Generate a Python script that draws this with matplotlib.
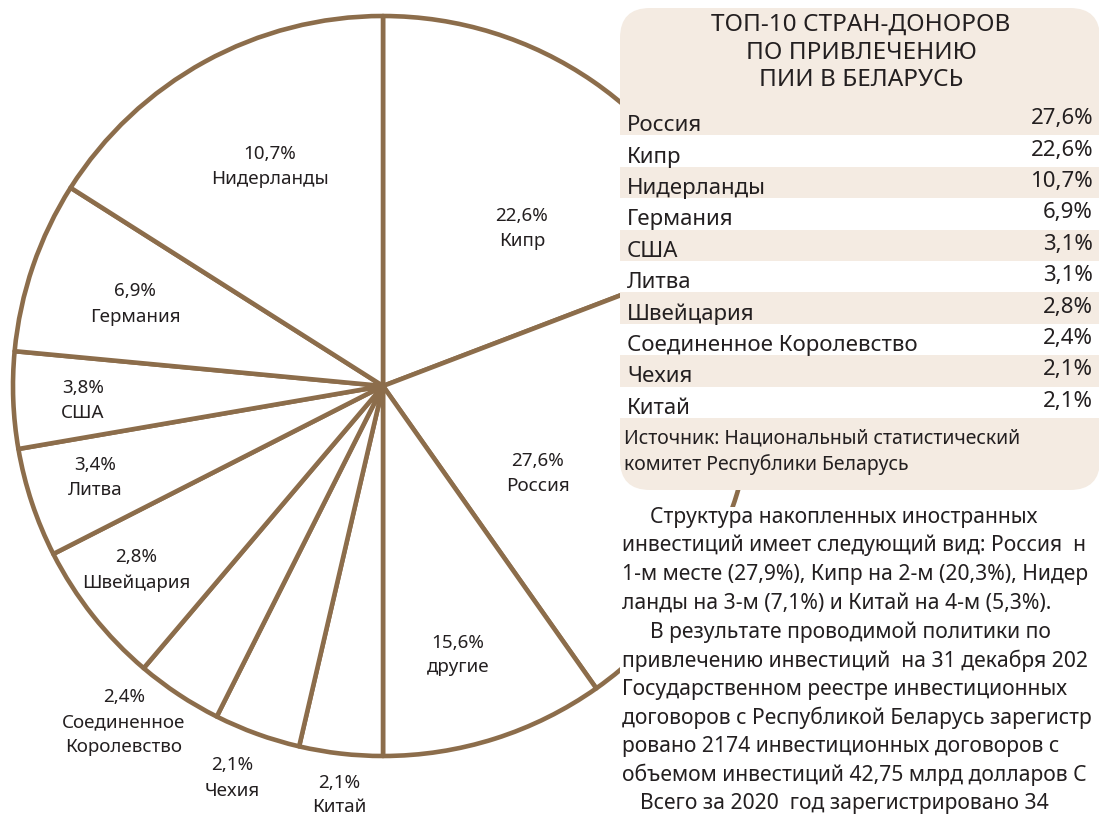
import matplotlib
matplotlib.use('Agg')
import matplotlib.pyplot as plt
from matplotlib.patches import FancyBboxPatch, Rectangle

# pie slices, clockwise from 12 o'clock
slice_names = ['Кипр', 'Россия', 'другие', 'Китай', 'Чехия', 'Соединенное\nКоролевство',
               'Швейцария', 'Литва', 'США', 'Германия', 'Нидерланды']
slice_shares = [22.6, 27.6, 15.6, 2.1, 2.1, 2.4, 2.8, 3.4, 3.8, 6.9, 10.7]
# the printed pie is not to scale: angular size of each slice as drawn (degrees)
slice_drawn = [69.1, 75.7, 35.2, 13.1, 13.6, 13.6, 22.7, 17.2, 15.2, 27.0, 57.6]

# table "top-10"
top_names = ['Россия', 'Кипр', 'Нидерланды', 'Германия', 'США', 'Литва', 'Швейцария',
             'Соединенное Королевство', 'Чехия', 'Китай']
top_values = [27.6, 22.6, 10.7, 6.9, 3.1, 3.1, 2.8, 2.4, 2.1, 2.1]

title_lines = ['ТОП-10 СТРАН-ДОНОРОВ', 'ПО ПРИВЛЕЧЕНИЮ', 'ПИИ В БЕЛАРУСЬ']
source_lines = ['Источник: Национальный статистический', 'комитет Республики Беларусь']

# running text, as much of each line as the page shows
body_lines = ['Структура накопленных иностранных',
              'инвестиций имеет следующий вид: Россия  н',
              '1-м месте (27,9%), Кипр на 2-м (20,3%), Нидер',
              'ланды на 3-м (7,1%) и Китай на 4-м (5,3%).',
              'В результате проводимой политики по',
              'привлечению инвестиций  на 31 декабря 202',
              'Государственном реестре инвестиционных',
              'договоров с Республикой Беларусь зарегистр',
              'ровано 2174 инвестиционных договоров с',
              'объемом инвестиций 42,75 млрд долларов С',
              'Всего за 2020  год зарегистрировано 34']
body_indent = [28, 0, 0, 0, 28, 0, 0, 0, 0, 0, 18]

BROWN = '#8c6d4b'
BEIGE = '#f4ebe2'
INK = '#231f20'
FONT = ['Noto Sans', 'DejaVu Sans']

W, H = 1099, 817


def pct(v):
    return f'{v:.1f}'.replace('.', ',') + '%'


def main():
    plt.rcParams['font.family'] = FONT
    fig = plt.figure(figsize=(W / 100, H / 100), dpi=100)
    ax = fig.add_axes([0, 0, 1, 1])

    # y axis is flipped below (pixel coords), so clockwise on screen = counterclock in data
    cx, cy, r = 383, 386, 370
    wedges, _ = ax.pie(slice_drawn, center=(cx, cy), radius=r, startangle=-90,
                       counterclock=True,
                       wedgeprops=dict(facecolor='white', edgecolor=BROWN,
                                       linewidth=3.3, joinstyle='round'))
    ax.set_xlim(0, W)
    ax.set_ylim(H, 0)
    ax.axis('off')

    # slice labels (percent above, name below)
    label_xy = [(522, 228), (538, 473), (458, 655), (339, 795), (232, 778),
                (124, 732), (136, 570), (95, 477), (83, 400), (135, 304), (270, 166)]
    for name, share, (x, y) in zip(slice_names, slice_shares, label_xy):
        if '\n' in name:
            y = y - 10
        ax.text(x, y, pct(share) + '\n' + name, ha='center', va='center',
                fontsize=13.5, color=INK, linespacing=1.5, zorder=5)

    # table box
    box = FancyBboxPatch((620, 8), 480, 482, boxstyle='round,pad=0,rounding_size=30',
                         facecolor=BEIGE, edgecolor='none', zorder=3)
    ax.add_patch(box)
    for i, t in enumerate(title_lines):
        ax.text(861, 25 + i * 27.5, t, ha='center', va='center', fontsize=17.5,
                color=INK, zorder=5)

    row_h = 31.4
    for i, (name, val) in enumerate(zip(top_names, top_values)):
        top = 104 + i * row_h
        if i % 2 == 1:
            ax.add_patch(Rectangle((620, top), 480, row_h, facecolor='white',
                                   edgecolor='none', zorder=3.5))
        ax.text(627, top + row_h / 2 + 6, name, ha='left', va='center', fontsize=16,
                color=INK, zorder=5)
        ax.text(1093, top + row_h / 2 - 1, pct(val), ha='right', va='center',
                fontsize=16, color=INK, zorder=5)
    for i, t in enumerate(source_lines):
        ax.text(624, 438 + i * 27, t, ha='left', va='center', fontsize=14,
                color=INK, zorder=5)

    # running text next to the chart covers the rest of the pie
    ax.add_patch(Rectangle((620, 507), 480, 320, facecolor='white', edgecolor='none',
                           zorder=3))
    for i, (t, ind) in enumerate(zip(body_lines, body_indent)):
        ax.text(622 + ind, 517 + i * 28.7, t, ha='left', va='center', fontsize=15.2,
                color=INK, zorder=5)

    fig.savefig('out.png', dpi=100, facecolor='white')


if __name__ == '__main__':
    main()
